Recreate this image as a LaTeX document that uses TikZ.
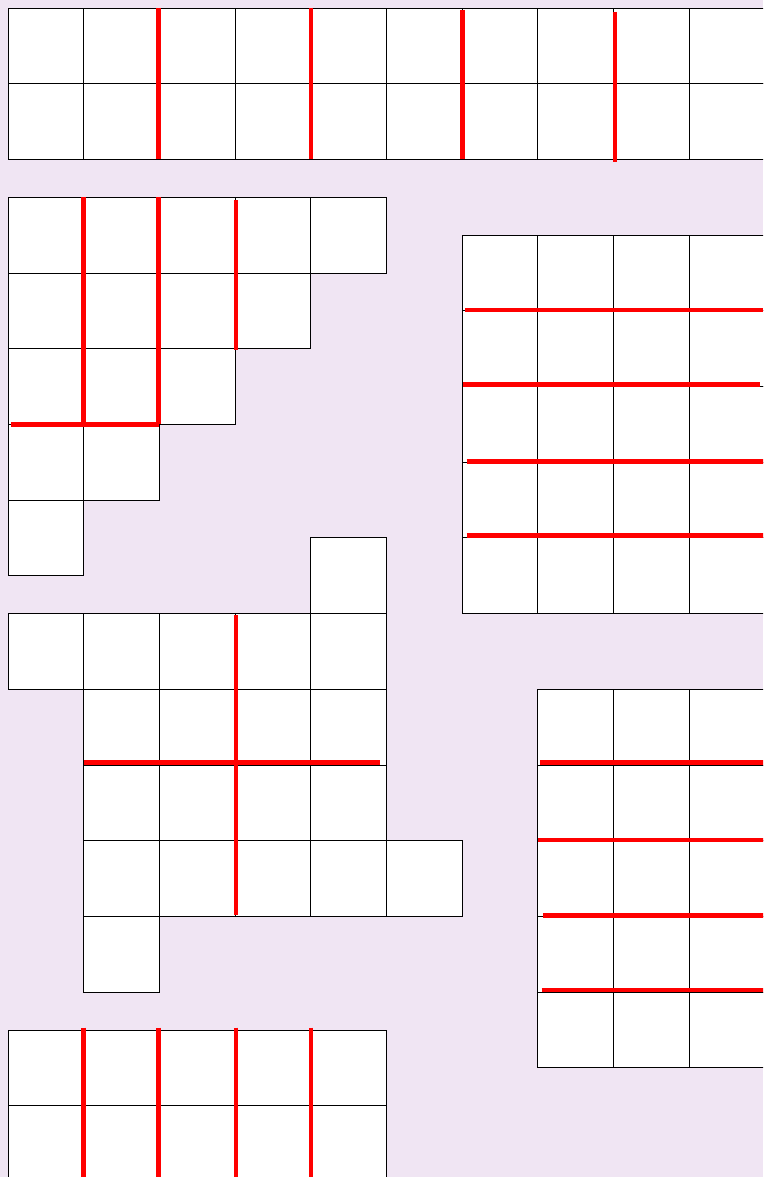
\documentclass[tikz,border=0pt]{standalone}
\definecolor{bgl}{RGB}{240,229,243}
\tikzset{
  cellbox/.style={draw=black, fill=white, line width=0.9pt},
  cut/.style={draw=red, line width=4.6pt, line cap=butt},
}
\begin{document}
\begin{tikzpicture}[x=75.7pt, y=-75.7pt]
  \fill[bgl] (-0.10568,-0.10568) rectangle (9.9736,15.4425);
  \useasboundingbox (-0.10568,-0.10568) rectangle (9.9736,15.4425);
  \clip (-0.10568,-0.10568) rectangle (9.9736,15.4425);
  % shape 1: top strip
  \foreach \j in {0,1} \foreach \i in {0,...,9}
    \draw[cellbox] (\i,\j) rectangle ++(1,1);
  % shape 2: staircase
  \foreach \j/\n in {2.5/4, 3.5/3, 4.5/2, 5.5/1, 6.5/0}
    \foreach \i in {0,...,\n}
      \draw[cellbox] (\i,\j) rectangle ++(1,1);
  % shape 3: right rectangle
  \foreach \j in {3,...,7} \foreach \i in {6,...,9}
    \draw[cellbox] (\i,\j) rectangle ++(1,1);
  % shape 4: middle shape
  \draw[cellbox] (4,7) rectangle ++(1,1);
  \foreach \i in {0,...,4} \draw[cellbox] (\i,8) rectangle ++(1,1);
  \foreach \j in {9,10} \foreach \i in {1,...,4}
    \draw[cellbox] (\i,\j) rectangle ++(1,1);
  \foreach \i in {1,...,5} \draw[cellbox] (\i,11) rectangle ++(1,1);
  \draw[cellbox] (1,12) rectangle ++(1,1);
  % shape 5: right lower rectangle
  \foreach \j in {9,...,13} \foreach \i in {7,...,9}
    \draw[cellbox] (\i,\j) rectangle ++(1,1);
  % shape 6: bottom strip
  \foreach \j in {13.5,14.5} \foreach \i in {0,...,4}
    \draw[cellbox] (\i,\j) rectangle ++(1,1);
  % red cuts: top strip
  \draw[cut] (1.99,0) -- (1.99,1.99);
  \draw[cut] (4.0,0) -- (4.0,2.0);
  \draw[cut] (6.0,0.02) -- (6.0,2.0);
  \draw[cut] (8.02,0.05) -- (8.02,2.04);
  % red cuts: staircase
  \draw[cut] (1.0,2.5) -- (1.0,5.5);
  \draw[cut] (1.99,2.5) -- (1.99,5.5);
  \draw[cut] (3.01,2.54) -- (3.01,4.52);
  \draw[cut] (0.04,5.5) -- (1.99,5.5);
  % red cuts: right rectangle
  \draw[cut] (6.04,3.99) -- (9.97,3.99);
  \draw[cut] (6.01,4.97) -- (9.94,4.97);
  \draw[cut] (6.06,5.99) -- (10,5.99);
  \draw[cut] (6.06,6.97) -- (10,6.97);
  % red cuts: middle shape
  \draw[cut] (3.01,8.02) -- (3.01,11.98);
  \draw[cut] (1.0,9.97) -- (4.91,9.97);
  % red cuts: right lower rectangle
  \draw[cut] (7.03,9.97) -- (10,9.97);
  \draw[cut] (7.0,10.99) -- (10,10.99);
  \draw[cut] (7.07,11.99) -- (10,11.99);
  \draw[cut] (7.05,12.97) -- (10,12.97);
  % red cuts: bottom strip
  \draw[cut] (1.0,13.47) -- (1.0,15.6);
  \draw[cut] (1.99,13.47) -- (1.99,15.6);
  \draw[cut] (3.01,13.47) -- (3.01,15.6);
  \draw[cut] (4.0,13.47) -- (4.0,15.6);
\end{tikzpicture}
\end{document}
